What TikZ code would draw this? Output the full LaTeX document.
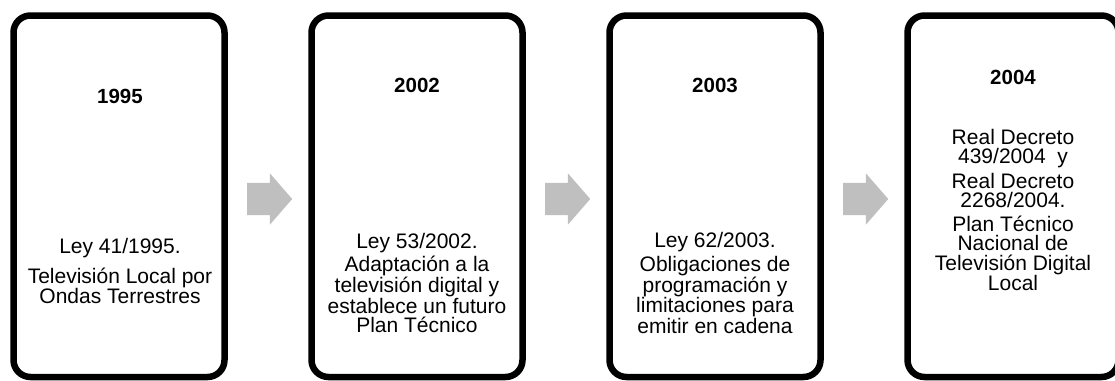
\documentclass[tikz,border=0pt]{standalone}
\usepackage{fontspec}
\setmainfont{Liberation Sans}
\usetikzlibrary{shapes.arrows}
\definecolor{arrowgray}{HTML}{BFBFBF}

\begin{document}
\begin{tikzpicture}[x=1pt,y=-1pt,
  card/.style={draw=black,line width=6.5pt,rounded corners=17pt,minimum width=211pt,minimum height=361.5pt,inner sep=0pt},
  yeartxt/.style={font=\fontsize{20.5}{24}\selectfont\bfseries,inner sep=0pt},
  bodytxt/.style={font=\fontsize{21}{19.5}\selectfont,align=center,inner sep=0pt},
  flecha/.style={single arrow,fill=arrowgray,draw=none,inner xsep=0pt,inner ysep=16pt,minimum height=45pt,single arrow head extend=9.5pt,single arrow tip angle=98,anchor=tail}]
\useasboundingbox (0,0) rectangle (1115,380);
\clip (0,0) rectangle (1115,380);
\node [card] (box1) at (119,196.25) {};
\node [card] (box2) at (417,196.25) {};
\node [card] (box3) at (715,196.25) {};
\node [card] (box4) at (1013,196.25) {};
\node [flecha] (a1) at (247,199) {};
\node [flecha] (a2) at (545,199) {};
\node [flecha] (a3) at (843,199) {};
\node [yeartxt] (y1) at (120,96) {1995};
\node [yeartxt] (y2) at (417,85) {2002};
\node [yeartxt] (y3) at (715,85) {2003};
\node [yeartxt] (y4) at (1013,77) {2004};
\node [bodytxt] (t1) at (120,271) {Ley 41/1995.\\[9pt]Televisión Local por\\Ondas Terrestres};
\node [bodytxt] (t2) at (417,283) {Ley 53/2002.\\[3pt]Adaptación a la\\televisión digital y\\establece un futuro\\Plan Técnico};
\node [bodytxt] (t3) at (715,283) {Ley 62/2003.\\[3pt]Obligaciones de\\programación y\\limitaciones para\\emitir en cadena};
\node [bodytxt] (t4) at (1013,210) {Real Decreto\\439/2004~~y\\[4pt]Real Decreto\\2268/2004.\\[4pt]Plan Técnico\\Nacional de\\Televisión Digital\\Local};
\end{tikzpicture}
\end{document}
